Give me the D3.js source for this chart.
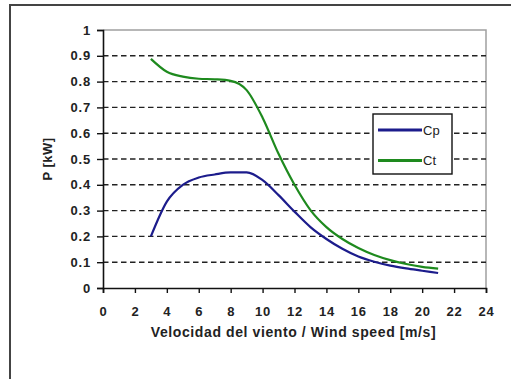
<!DOCTYPE html>
<html>
<head>
<meta charset="utf-8">
<script src="https://cdn.jsdelivr.net/npm/d3@7/dist/d3.min.js"></script>
<style>
  html, body { margin: 0; padding: 0; background: #fff; }
  svg { display: block; }
  text { font-family: "Liberation Sans", Arial, sans-serif; fill: #222; }
</style>
</head>
<body>
<svg id="chart" width="511" height="379"></svg>
<script>
// Wind speed [m/s]
const windSpeed = [3, 4, 5, 6, 7, 8, 9, 10, 11, 12, 13, 14, 15, 16, 17, 18, 19, 20, 21];
// Power coefficient
const cp = [0.20, 0.335, 0.40, 0.428, 0.44, 0.448, 0.448, 0.418, 0.36, 0.296, 0.236, 0.19, 0.152, 0.122, 0.102, 0.087, 0.076, 0.067, 0.058];
// Thrust coefficient
const ct = [0.888, 0.838, 0.819, 0.811, 0.809, 0.803, 0.767, 0.66, 0.52, 0.40, 0.302, 0.236, 0.19, 0.155, 0.128, 0.108, 0.093, 0.082, 0.075];

const xTicks = [0, 2, 4, 6, 8, 10, 12, 14, 16, 18, 20, 22, 24];
const yTicks = [0, 0.1, 0.2, 0.3, 0.4, 0.5, 0.6, 0.7, 0.8, 0.9, 1];
const yTickLabels = ["0", "0.1", "0.2", "0.3", "0.4", "0.5", "0.6", "0.7", "0.8", "0.9", "1"];

const series = [
  { name: "Cp", values: cp, color: "#1c1c8c" },
  { name: "Ct", values: ct, color: "#1e8a1e" }
];

const svg = d3.select("#chart");

// outer frame around the figure
svg.append("rect")
  .attr("x", 10).attr("y", 5)
  .attr("width", 520).attr("height", 400)
  .attr("fill", "none").attr("stroke", "#444").attr("stroke-width", 2);

const plot = { left: 103, top: 30, right: 486, bottom: 288 };

const x = d3.scaleLinear().domain([0, 24]).range([plot.left, plot.right]);
const y = d3.scaleLinear().domain([0, 1]).range([plot.bottom, plot.top]);

// plot frame (top and right)
svg.append("path")
  .attr("d", `M${plot.left},${plot.top}H${plot.right}V${plot.bottom}`)
  .attr("fill", "none").attr("stroke", "#a0a0a0").attr("stroke-width", 1.5);

// dashed horizontal gridlines
svg.append("g").selectAll("line")
  .data(yTicks.filter(v => v > 0 && v < 1))
  .join("line")
  .attr("x1", plot.left).attr("x2", plot.right)
  .attr("y1", d => y(d)).attr("y2", d => y(d))
  .attr("stroke", "#222").attr("stroke-width", 1.4)
  .attr("stroke-dasharray", "5.5,3.5");

// y axis
const yAxis = svg.append("g")
  .attr("transform", `translate(${plot.left},0)`)
  .call(d3.axisLeft(y).tickValues(yTicks).tickSize(6).tickPadding(6)
    .tickFormat((d, i) => yTickLabels[i]));
yAxis.select(".domain").attr("stroke", "#111").attr("stroke-width", 1.6);
yAxis.selectAll(".tick line").attr("stroke", "#111").attr("stroke-width", 1.4);
yAxis.selectAll(".tick text")
  .attr("font-size", 13).attr("font-weight", "bold")
  .attr("letter-spacing", 0.8).attr("fill", "#2a2a2a")
  .style("font-family", "'Liberation Sans', Arial, sans-serif");

// x axis
const xAxis = svg.append("g")
  .attr("transform", `translate(0,${plot.bottom})`)
  .call(d3.axisBottom(x).tickValues(xTicks).tickSize(5).tickPadding(14));
xAxis.select(".domain").attr("stroke", "#111").attr("stroke-width", 1.6);
xAxis.selectAll(".tick line").attr("stroke", "#111").attr("stroke-width", 1.4);
xAxis.selectAll(".tick text")
  .attr("font-size", 13).attr("font-weight", "bold")
  .attr("letter-spacing", 0.8).attr("fill", "#2a2a2a")
  .style("font-family", "'Liberation Sans', Arial, sans-serif");

// curves
const line = d3.line()
  .x((d, i) => x(windSpeed[i]))
  .y(d => y(d))
  .curve(d3.curveMonotoneX);

svg.append("g").selectAll("path")
  .data(series)
  .join("path")
  .attr("d", s => line(s.values))
  .attr("fill", "none")
  .attr("stroke", s => s.color)
  .attr("stroke-width", 2.2);

// axis titles
svg.append("text")
  .attr("x", (plot.left + plot.right) / 2 - 1).attr("y", 337)
  .attr("text-anchor", "middle")
  .attr("font-size", 14).attr("font-weight", "bold")
  .attr("letter-spacing", 0.6).attr("fill", "#2a2a2a")
  .text("Velocidad del viento / Wind speed [m/s]");

svg.append("text")
  .attr("transform", `translate(52,${(plot.top + plot.bottom) / 2}) rotate(-90)`)
  .attr("text-anchor", "middle")
  .attr("font-size", 13).attr("font-weight", "bold")
  .attr("letter-spacing", 0.5).attr("fill", "#2a2a2a")
  .text("P [kW]");

// legend
const legend = svg.append("g");
legend.append("rect")
  .attr("x", 373).attr("y", 114).attr("width", 79).attr("height", 60)
  .attr("fill", "#fff").attr("stroke", "#111").attr("stroke-width", 1.4);
const items = legend.selectAll("g.item")
  .data(series)
  .join("g")
  .attr("class", "item")
  .attr("transform", (d, i) => `translate(0,${130 + i * 30.5})`);
items.append("line")
  .attr("x1", 378).attr("x2", 422)
  .attr("stroke", d => d.color).attr("stroke-width", 3);
items.append("text")
  .attr("x", 423).attr("y", 4.5)
  .attr("font-size", 13)
  .attr("fill", "#222")
  .text(d => d.name);
</script>
</body>
</html>
